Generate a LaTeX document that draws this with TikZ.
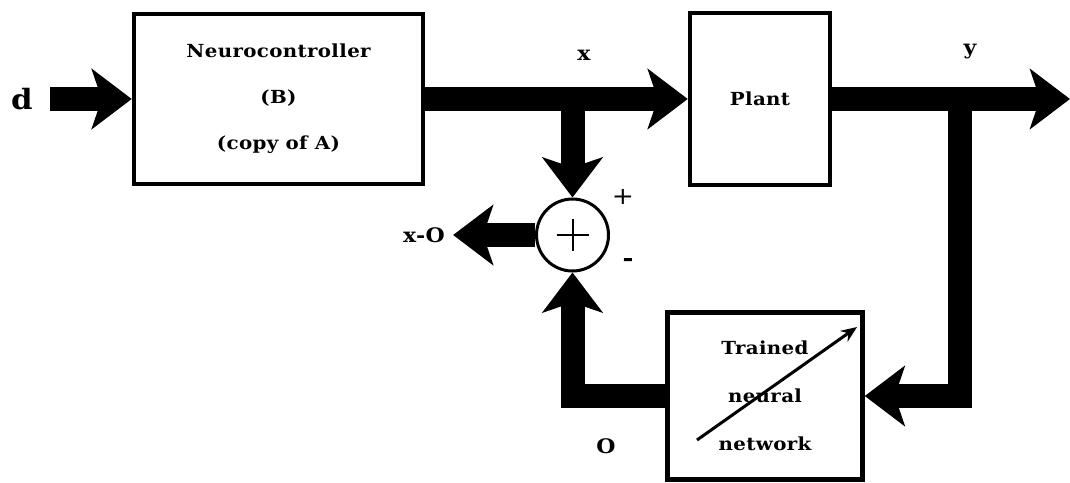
\documentclass[tikz,border=0pt]{standalone}
\usepackage{fontspec}
\setmainfont{DejaVu Serif}[FakeStretch=1.1,LetterSpace=2]
\usetikzlibrary{arrows.meta,scopes}

\begin{document}
\begin{tikzpicture}[x=1pt,y=-1pt,
    block/.style={draw,line width=4.5pt,align=center,
      font=\bfseries\fontsize{18}{18}\selectfont},
    flow/.style={line width=24pt,-{Stealth[length=40pt,width=60pt,inset=10pt]}},
    sigtag/.style={font=\bfseries\fontsize{20}{20}\selectfont}]
  \useasboundingbox (0,0) rectangle (1070,482);
  \node [block,minimum width=289pt,minimum height=170pt] (ctrl) at (278.5,99)
    {Neurocontroller\\[28pt](B)\\[28pt](copy of A)};
  \node [block,minimum width=140pt,minimum height=172pt] (plant) at (760,99) {Plant};
  \node [block,minimum width=195pt,minimum height=167pt] (nn) at (765,396)
    {Trained\\[30pt]neural\\[30pt]network};
  \node [draw,circle,line width=3pt,minimum size=72pt] (sum) at (572.5,235) {};
  \draw [line width=2pt] ([xshift=-16pt]sum.center) -- ([xshift=16pt]sum.center)
    ([yshift=-16pt]sum.center) -- ([yshift=16pt]sum.center);
  \draw [line width=3pt,-{Stealth[length=16pt,width=13pt]}]
    ([shift={(-68,44)}]nn.center) -- ([shift={(92,-69)}]nn.center);
  { [every node/.style=sigtag]
    \node [font=\bfseries\fontsize{28}{28}\selectfont] (d) at (22,99) {d};
    \node (x) at (584,55) {x};
    \node (y) at (970,52) {y};
    \node [inner sep=8pt] (xo) at (424,235) {x-O};
    \node (o) at (606,446) {O};
    \node [font=\fontsize{24}{24}\selectfont] (plus) at (623,197) {+};
    \node [font=\bfseries\fontsize{24}{24}\selectfont] (minus) at (628,262) {-};
  }
  \coordinate (out) at (1070,99);
  \coordinate (ytap) at (960,99);
  \draw [flow] (d.east -| 50,0) -- (ctrl.west);
  \draw [flow] (ctrl.east) -- (plant.west);
  \draw [flow] (plant.east) -- (out);
  \draw [flow] (sum |- ctrl.east) -- (sum.north);
  \draw [flow] (ytap) |- (nn.east);
  \draw [flow] (nn.west) -| (sum.south);
  \draw [flow] (sum.west) -- (xo.east);
\end{tikzpicture}
\end{document}
